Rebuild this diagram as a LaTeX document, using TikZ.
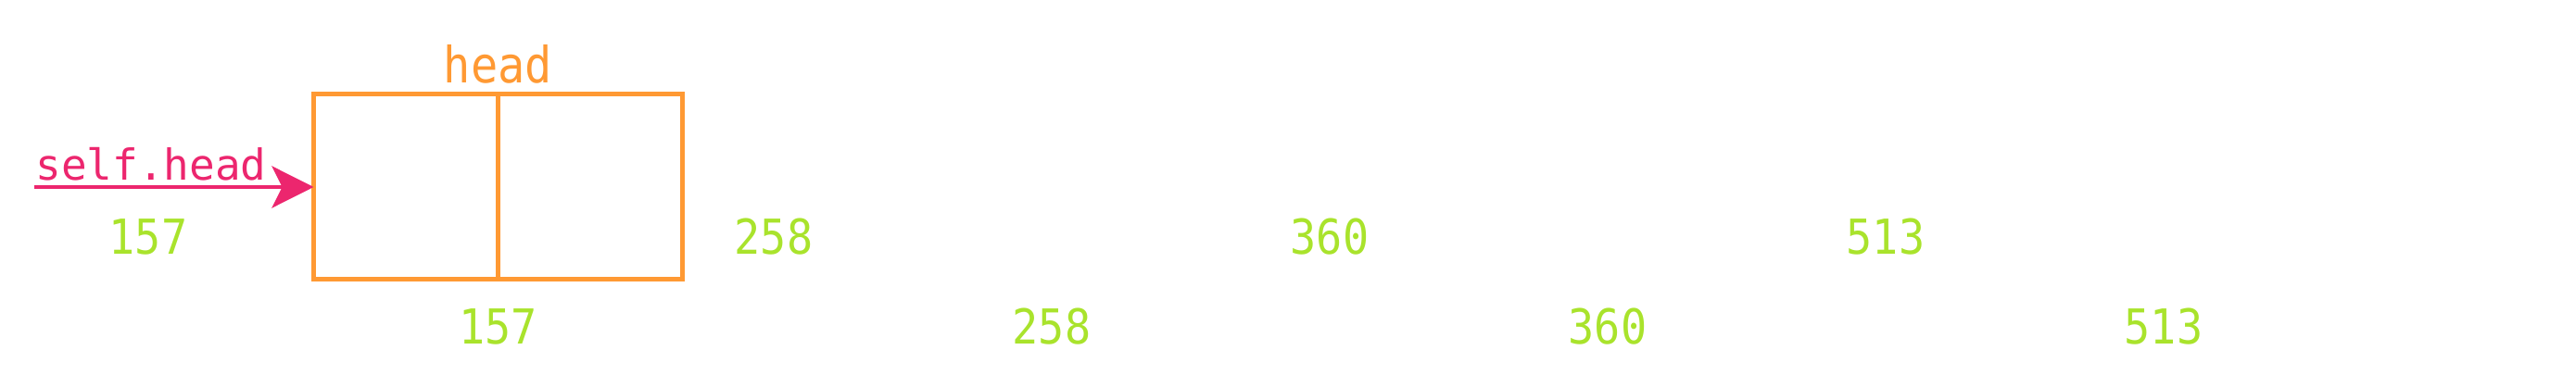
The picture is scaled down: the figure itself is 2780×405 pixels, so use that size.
\documentclass[tikz,border=0pt]{standalone}
\usepackage{fontspec}
\usepackage{tikz}
\usetikzlibrary{positioning,arrows.meta}
\setmonofont{DejaVu Sans Mono}
\newfontfamily\addrfont[FakeStretch=0.9]{DejaVu Sans Mono}
\definecolor{nodeorange}{RGB}{255,153,51}
\definecolor{ptrpink}{RGB}{236,38,110}
\definecolor{addrgreen}{RGB}{169,227,44}

\begin{document}
\begin{tikzpicture}[x=0.5pt,y=-0.5pt,
    cell/.style={draw=nodeorange,line width=2.5pt,minimum width=99.5pt,minimum height=100pt,inner sep=0pt,outer sep=0pt},
    addr/.style={text=addrgreen,font=\addrfont\fontsize{26}{30}\selectfont,anchor=base,inner sep=0pt},
    ptr/.style={-{Stealth[length=22.5pt,width=22.5pt,inset=5.5pt]},draw=ptrpink,line width=2.2pt}]
    \useasboundingbox (0,0) rectangle (2780,405);
    \node[cell] (val)                  at (438,202) {};
    \node[cell] (nxt) [right=0pt of val]            {};
    \node[text=nodeorange,font=\addrfont\fontsize{27}{30}\selectfont,anchor=base,inner sep=0pt]
        (name) at ([yshift=6pt]val.north east) {head};
    \coordinate (start) at (37,202);
    \node[text=ptrpink,font=\ttfamily\fontsize{23}{28}\selectfont,anchor=base west,inner sep=0pt]
        (ptrname) at ([xshift=0.5pt,yshift=3.5pt]start) {self.head};
    \draw[ptr] (start) -- (val);
    \node[addr] (a157) at (160,275)  {157};
    \node[addr] (a258) at (835,275)  {258};
    \node[addr] (a360) at (1435,275) {360};
    \node[addr] (a513) at (2035,275) {513};
    \node[addr] (b157) at ([yshift=-35pt]val.south east) {157};
    \node[addr] (b258) at (1135,372) {258};
    \node[addr] (b360) at (1735,372) {360};
    \node[addr] (b513) at (2335,372) {513};
\end{tikzpicture}
\end{document}
